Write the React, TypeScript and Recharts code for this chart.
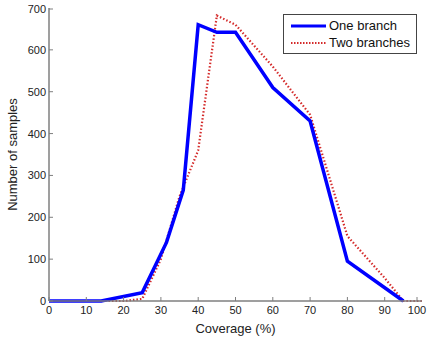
import { Line, LineChart, XAxis, YAxis } from "recharts";

const oneBranchX = [0, 14, 25, 31.5, 36, 40, 45, 50, 60, 70, 80, 95];
const oneBranchY = [0, 0, 20, 140, 265, 660, 642, 642, 510, 430, 95, 0];

const twoBranchesX = [0, 20, 25, 30, 35, 40, 45, 50, 60, 70, 80, 90, 95, 100];
const twoBranchesY = [0, 0, 5, 100, 250, 360, 682, 660, 560, 445, 155, 55, 0, 0];

const xTicks = [0, 10, 20, 30, 40, 50, 60, 70, 80, 90, 100];
const yTicks = [0, 100, 200, 300, 400, 500, 600, 700];

const oneBranch = oneBranchX.map((x, i) => ({ x, y: oneBranchY[i] }));
const twoBranches = twoBranchesX.map((x, i) => ({ x, y: twoBranchesY[i] }));

const AXIS = "#7f7f7f";
const FONT = "'Liberation Sans', Arial, sans-serif";

const BottomTick = (p: any) => (
  <g>
    <line x1={p.x} y1={p.y} x2={p.x} y2={p.y - 4} stroke={AXIS} />
    <text x={p.x} y={p.y + 13} textAnchor="middle" fontSize={11} fill="#222" fontFamily={FONT}>
      {p.payload.value}
    </text>
  </g>
);

const TopTick = (p: any) => (
  <line x1={p.x} y1={p.y} x2={p.x} y2={p.y + 4} stroke={AXIS} />
);

const LeftTick = (p: any) => (
  <g>
    <line x1={p.x} y1={p.y} x2={p.x + 4} y2={p.y} stroke={AXIS} />
    <text x={p.x - 3} y={p.y + 4} textAnchor="end" fontSize={11} fill="#222" fontFamily={FONT}>
      {p.payload.value}
    </text>
  </g>
);

const RightTick = (p: any) => (
  <line x1={p.x} y1={p.y} x2={p.x - 4} y2={p.y} stroke={AXIS} />
);

const LegendBox = () => (
  <div
    style={{
      position: "absolute",
      left: 283,
      top: 14,
      border: "1px solid #444",
      background: "#fff",
      width: 134,
      height: 40,
      fontFamily: FONT,
      fontSize: 13,
      color: "#111",
      boxSizing: "border-box",
      padding: "2px 0 0 7px",
      lineHeight: "17px",
    }}
  >
    <div style={{ display: "flex", alignItems: "center" }}>
      <svg width={38} height={10}>
        <line x1={0} y1={5} x2={35} y2={5} stroke="#0000ff" strokeWidth={3} />
      </svg>
      <span>One branch</span>
    </div>
    <div style={{ display: "flex", alignItems: "center" }}>
      <svg width={38} height={10}>
        <line x1={0} y1={5} x2={35} y2={5} stroke="#d42a2a" strokeWidth={2} strokeDasharray="1.5 1.5" />
      </svg>
      <span>Two branches</span>
    </div>
  </div>
);

export default function App() {
  return (
    <div style={{ position: "absolute", left: 0, top: 0, width: 429, height: 342, background: "#fff" }}>
      <LineChart width={429} height={342} margin={{ top: 8, right: 7, left: 0, bottom: 0 }}>
        <XAxis
          type="number"
          dataKey="x"
          domain={[0, 100]}
          ticks={xTicks}
          height={41}
          tickSize={0}
          tickMargin={0}
          tickLine={false}
          tick={<BottomTick />}
          axisLine={{ stroke: AXIS, strokeWidth: 1.5 }}
          label={{
            value: "Coverage (%)",
            position: "insideBottom",
            offset: 9,
            style: { fontSize: 13, fill: "#222", fontFamily: FONT },
          }}
        />
        <XAxis
          xAxisId="top"
          orientation="top"
          type="number"
          dataKey="x"
          domain={[0, 100]}
          ticks={xTicks}
          height={0}
          tickSize={0}
          tickMargin={0}
          tickLine={false}
          tick={<TopTick />}
          axisLine={{ stroke: AXIS, strokeWidth: 1.5 }}
        />
        <YAxis
          type="number"
          domain={[0, 700]}
          ticks={yTicks}
          width={49}
          tickSize={0}
          tickMargin={0}
          tickLine={false}
          tick={<LeftTick />}
          axisLine={{ stroke: AXIS, strokeWidth: 1.5 }}
          label={{
            value: "Number of samples",
            angle: -90,
            position: "insideLeft",
            offset: 12,
            style: { textAnchor: "middle", fontSize: 13, fill: "#222", fontFamily: FONT },
          }}
        />
        <YAxis
          yAxisId="right"
          orientation="right"
          type="number"
          domain={[0, 700]}
          ticks={yTicks}
          width={0}
          tickSize={0}
          tickMargin={0}
          tickLine={false}
          tick={<RightTick />}
          axisLine={{ stroke: AXIS, strokeWidth: 1.5 }}
        />
        <Line
          data={twoBranches}
          dataKey="y"
          name="Two branches"
          stroke="#d42a2a"
          strokeWidth={2.2}
          strokeDasharray="1.5 2"
          dot={false}
          isAnimationActive={false}
        />
        <Line
          data={oneBranch}
          dataKey="y"
          name="One branch"
          stroke="#0000ff"
          strokeWidth={3.5}
          strokeLinejoin="miter"
          dot={false}
          isAnimationActive={false}
        />
      </LineChart>
      <LegendBox />
    </div>
  );
}
